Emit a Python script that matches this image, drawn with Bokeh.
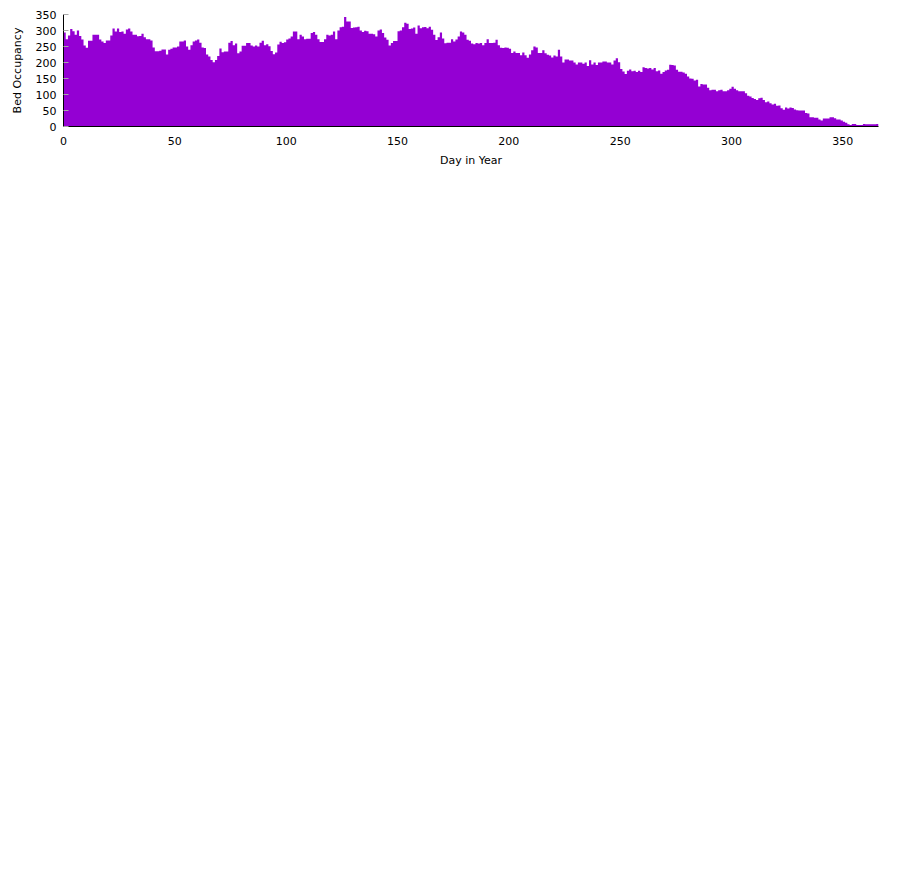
from bokeh.plotting import figure
from bokeh.models import Range1d, FixedTicker
from bokeh.embed import file_html
from bokeh.resources import INLINE

# Day-of-year index (0..365) and bed occupancy
days = list(range(366))

occ_a = [294, 273, 284, 305, 298, 287, 300, 283, 272, 253, 246, 268, 268, 287, 287, 287,
         272, 266, 261, 269, 269, 284, 306, 297, 306, 295, 297, 290, 303, 306, 297, 287,
         287, 282, 283, 290, 279, 273, 273, 269, 247, 235, 235, 237, 241, 241, 225]
occ_b = [240, 243, 247, 247, 250, 266, 266, 269, 250, 240, 254, 266, 269, 272, 262, 247,
         245, 225, 219, 208, 201, 208, 220, 244, 232, 234, 234, 262, 267, 254, 259, 229,
         234, 252, 252, 261, 261, 253, 250, 253, 250, 262, 268, 254, 257, 251]
occ_c = [236, 226, 231, 256, 265, 261, 263, 272, 275, 281, 297, 297, 273, 287, 281, 273,
         274, 274, 292, 295, 287, 273, 264, 264, 273, 287, 284, 287, 297, 273, 300, 310,
         312, 342, 328, 328, 308, 309, 310, 312, 300, 295, 299, 298, 290]
occ_d = [290, 288, 281, 300, 303, 292, 278, 271, 253, 261, 267, 267, 298, 300, 310, 324,
         321, 305, 306, 309, 290, 316, 307, 310, 311, 307, 312, 302, 287, 270, 279, 294,
         275, 260, 262, 262, 273, 266, 272, 281, 297, 294, 287, 271, 268, 259]
occ_e = [257, 261, 259, 261, 254, 261, 273, 261, 261, 262, 271, 254, 246, 245, 247, 246,
         243, 230, 234, 230, 230, 223, 231, 223, 215, 225, 238, 250, 247, 230, 230, 238,
         229, 224, 222, 216, 222, 219, 240, 219, 200, 209, 209, 206, 206, 200]
occ_f = [194, 200, 200, 196, 200, 189, 207, 194, 200, 192, 200, 200, 203, 203, 200, 200,
         194, 206, 213, 201, 180, 172, 164, 174, 178, 173, 174, 170, 174, 170, 185, 183,
         181, 183, 178, 183, 173, 175, 165, 170, 175, 177, 193, 192, 191]
occ_g = [177, 171, 171, 169, 165, 156, 150, 149, 144, 146, 125, 133, 131, 131, 121, 113,
         115, 115, 110, 113, 115, 110, 110, 113, 118, 124, 118, 113, 110, 110, 110, 104,
         96, 94, 89, 86, 83, 88, 90, 83, 76, 78, 73, 69, 71, 65]
occ_h = [66, 57, 52, 59, 56, 59, 58, 53, 51, 50, 50, 50, 42, 41, 29, 29, 27, 27, 22, 19,
         25, 25, 25, 29, 29, 26, 22, 22, 19, 15, 12, 7, 5, 8, 8, 5, 5, 5, 8, 7, 7, 7, 7, 7, 8]

occupancy = occ_a + occ_b + occ_c + occ_d + occ_e + occ_f + occ_g + occ_h

x_ticks = [0, 50, 100, 150, 200, 250, 300, 350]
y_ticks = [0, 50, 100, 150, 200, 250, 300, 350]

BAR = "#9400D3"
FONT = "DejaVu Sans"

p = figure(frame_width=815, frame_height=112,
           x_range=Range1d(0, 366), y_range=Range1d(0, 350),
           output_backend="svg", toolbar_location=None,
           min_border_left=63, min_border_top=14, min_border_right=12,
           min_border_bottom=10)

# One-day-wide bars, drawn as a single stepped area so no seams appear
# between adjacent bars (each value is held from day d to day d+1).
step_x = days + [days[-1] + 1]
step_y = occupancy + [occupancy[-1]]
p.varea_step(x=step_x, y1=0, y2=step_y, step_mode="after", fill_color=BAR)

p.xgrid.visible = False
p.ygrid.visible = False
p.outline_line_color = None
p.background_fill_color = "white"
p.border_fill_color = "white"

p.xaxis.ticker = FixedTicker(ticks=x_ticks)
p.yaxis.ticker = FixedTicker(ticks=y_ticks)

for ax in (p.xaxis[0], p.yaxis[0]):
    ax.axis_line_color = "black"
    ax.axis_line_width = 1
    ax.major_tick_out = 0
    ax.minor_tick_in = 0
    ax.minor_tick_out = 0
    ax.major_label_text_font = FONT
    ax.major_label_text_font_size = "11px"
    ax.major_label_text_color = "black"
    ax.axis_label_text_font = FONT
    ax.axis_label_text_font_size = "11px"
    ax.axis_label_text_font_style = "normal"
    ax.axis_label_text_color = "black"

p.xaxis.axis_label = "Day in Year"
p.xaxis.major_tick_in = 0
p.xaxis.major_label_standoff = 10
p.xaxis.axis_label_standoff = 6

p.yaxis.axis_label = "Bed Occupancy"
p.yaxis.major_tick_in = 5
p.yaxis.major_tick_line_color = "#a8a8a8"
p.yaxis.major_label_standoff = 7
p.yaxis.axis_label_standoff = 9

open("out.html", "w").write(file_html(p, INLINE))
